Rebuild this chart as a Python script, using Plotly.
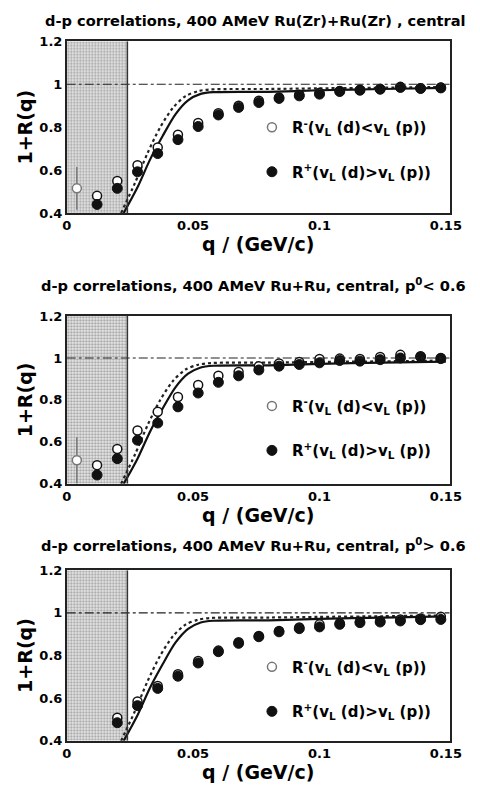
import plotly.graph_objects as go

# ---------------- data ----------------
q_bins = [0.004, 0.012, 0.020, 0.028, 0.036, 0.044, 0.052, 0.060, 0.068, 0.076,
          0.084, 0.092, 0.100, 0.108, 0.116, 0.124, 0.132, 0.140, 0.148]

titles = [
    "d-p correlations, 400 AMeV Ru(Zr)+Ru(Zr) , central",
    "d-p correlations, 400 AMeV Ru+Ru, central, p<sup>0</sup>&lt; 0.6",
    "d-p correlations, 400 AMeV Ru+Ru, central, p<sup>0</sup>&gt; 0.6",
]

# panel 1
r_minus_1 = [0.515, 0.480, 0.549, 0.623, 0.705, 0.765, 0.820, 0.865, 0.900, 0.923,
             0.938, 0.951, 0.960, 0.969, 0.974, 0.978, 0.988, 0.982, 0.985]
r_plus_1 = [None, 0.440, 0.515, 0.592, 0.677, 0.742, 0.803, 0.857, 0.892, 0.915,
            0.934, 0.946, 0.954, 0.966, 0.972, 0.977, 0.985, 0.980, 0.983]
# panel 2
r_minus_2 = [0.512, 0.489, 0.566, 0.654, 0.744, 0.814, 0.871, 0.915, 0.933, 0.961,
             0.974, 0.981, 0.995, 0.997, 0.995, 1.005, 1.015, 1.008, 1.000]
r_plus_2 = [None, 0.442, 0.520, 0.608, 0.690, 0.767, 0.833, 0.884, 0.915, 0.943,
            0.961, 0.969, 0.977, 0.988, 0.985, 0.992, 1.000, 1.005, 0.997]
# panel 3
r_minus_3 = [None, None, 0.508, 0.585, 0.657, 0.712, 0.774, 0.823, 0.862, 0.892,
             0.915, 0.931, 0.946, 0.951, 0.958, 0.962, 0.969, 0.974, 0.982]
r_plus_3 = [None, None, 0.485, 0.565, 0.646, 0.703, 0.765, 0.818, 0.857, 0.888,
            0.911, 0.926, 0.934, 0.946, 0.954, 0.957, 0.962, 0.968, 0.969]

# first-bin error (only visible error bar)
err_minus_1 = [0.10] + [0] * 18
err_minus_2 = [0.11] + [0] * 18
err_minus_3 = [0] * 19

# model curves
solid_q = [0.0225, 0.028, 0.033, 0.038, 0.043, 0.048, 0.053, 0.058, 0.080, 0.100, 0.125, 0.150]
solid_r = [0.40, 0.52, 0.65, 0.76, 0.86, 0.925, 0.955, 0.963, 0.965, 0.972, 0.978, 0.983]
dotted_q = [0.0215, 0.027, 0.032, 0.037, 0.042, 0.047, 0.052, 0.057, 0.080, 0.100, 0.125, 0.150]
dotted_r = [0.40, 0.54, 0.68, 0.80, 0.89, 0.945, 0.968, 0.976, 0.978, 0.981, 0.984, 0.988]

excl_q = [0.0, 0.024]          # excluded (shaded) q-range
x_range = [0.0, 0.1515]
y_range = [0.4, 1.2]
y_ticks = [0.4, 0.6, 0.8, 1.0, 1.2]
y_ticklabels = ["0.4", "0.6", "0.8", "1", "1.2"]
x_ticks = [0.0, 0.05, 0.1, 0.15]
x_ticklabels = ["0", "0.05", "0.1", "0.15"]

legend_minus = "R<sup>-</sup>(v<sub>L</sub> (d)&lt;v<sub>L</sub> (p))"
legend_plus = "R<sup>+</sup>(v<sub>L</sub> (d)&gt;v<sub>L</sub> (p))"

panels = [
    (r_minus_1, r_plus_1, err_minus_1),
    (r_minus_2, r_plus_2, err_minus_2),
    (r_minus_3, r_plus_3, err_minus_3),
]

# ---------------- layout geometry (pixels) ----------------
W, H = 480, 794
plot_px = [(35, 210), (315, 486), (574, 748)]   # top, bottom
title_px = [14, 283, 548]
legend_top_px = [106, 390, 656]
x_dom = [64 / W, 461 / W]

FONT = "DejaVu Sans, Liberation Sans, Arial, sans-serif"

fig = go.Figure()
layout_axes = {}
annotations = []
shapes = []

for i, (rm, rp, em) in enumerate(panels):
    n = i + 1
    xa = "x" if n == 1 else f"x{n}"
    ya = "y" if n == 1 else f"y{n}"
    lg = "legend" if n == 1 else f"legend{n}"

    # shaded excluded region
    fig.add_trace(go.Scatter(
        x=[excl_q[0], excl_q[1], excl_q[1], excl_q[0], excl_q[0]],
        y=[y_range[0], y_range[0], y_range[1], y_range[1], y_range[0]],
        mode="lines", line=dict(width=0), fill="toself",
        fillcolor="rgba(200,200,200,1)",
        fillpattern=dict(shape=".", fgcolor="#555555", bgcolor="#ececec",
                         size=3, solidity=0.45),
        xaxis=xa, yaxis=ya, showlegend=False, hoverinfo="skip"))

    # dotted model
    fig.add_trace(go.Scatter(
        x=dotted_q, y=dotted_r, mode="lines",
        line=dict(color="#222222", width=2.2, dash="dot", shape="spline", smoothing=0.8),
        xaxis=xa, yaxis=ya, showlegend=False, hoverinfo="skip"))
    # solid model
    fig.add_trace(go.Scatter(
        x=solid_q, y=solid_r, mode="lines",
        line=dict(color="#111111", width=2.2, shape="spline", smoothing=0.8),
        xaxis=xa, yaxis=ya, showlegend=False, hoverinfo="skip"))

    # open circles (R-)
    line_cols = ["#777777"] + ["#111111"] * 18
    fig.add_trace(go.Scatter(
        x=q_bins, y=rm, mode="markers",
        marker=dict(symbol="circle", size=9, color="white",
                    line=dict(color=line_cols, width=1.5)),
        error_y=dict(type="data", array=em, visible=True, color="#777777",
                     thickness=1.5, width=0),
        xaxis=xa, yaxis=ya, name=legend_minus, legend=lg,
        legendgroup=f"m{n}", showlegend=True))
    # filled circles (R+)
    fig.add_trace(go.Scatter(
        x=q_bins, y=rp, mode="markers",
        marker=dict(symbol="circle", size=10, color="#111111",
                    line=dict(color="#111111", width=1)),
        xaxis=xa, yaxis=ya, name=legend_plus, legend=lg,
        legendgroup=f"p{n}", showlegend=True))

    top, bot = plot_px[i]
    dom_y = [1 - bot / H, 1 - top / H]
    layout_axes[f"xaxis{'' if n == 1 else n}"] = dict(
        domain=x_dom, range=x_range, anchor=ya,
        tickvals=x_ticks, ticktext=x_ticklabels,
        showgrid=False, zeroline=False, showline=True, mirror=True,
        linecolor="#222222", linewidth=1.5, ticks="",
        tickfont=dict(family=FONT, size=13, color="black", weight="bold"),
        title=dict(text="q / (GeV/c)", standoff=0,
                   font=dict(family=FONT, size=19, color="black", weight="bold")),
    )
    layout_axes[f"yaxis{'' if n == 1 else n}"] = dict(
        domain=dom_y, range=y_range, anchor=xa,
        tickvals=y_ticks, ticktext=y_ticklabels,
        showgrid=False, zeroline=False, showline=True, mirror=True,
        linecolor="#222222", linewidth=1.5, ticks="",
        tickfont=dict(family=FONT, size=13, color="black", weight="bold"),
        title=dict(text="1+R(q)", standoff=2,
                   font=dict(family=FONT, size=19, color="black", weight="bold")),
    )

    # title
    annotations.append(dict(
        text=titles[i], xref="paper", yref="paper", x=1.0, y=1 - title_px[i] / H,
        xanchor="right", yanchor="middle", showarrow=False,
        font=dict(family=FONT, size=14.6, color="black", weight="bold")))

    # y = 1 reference line
    shapes.append(dict(type="line", xref=xa, yref=ya, x0=x_range[0], x1=x_range[1],
                       y0=1, y1=1, line=dict(color="#222222", width=1.2, dash="dashdot")))
    # edge of excluded region
    shapes.append(dict(type="line", xref=xa, yref=ya, x0=excl_q[1], x1=excl_q[1],
                       y0=y_range[0], y1=y_range[1], line=dict(color="#333333", width=1.5)))

    layout_axes[lg] = dict(
        x=(256) / W, y=1 - legend_top_px[i] / H, xanchor="left", yanchor="top",
        bgcolor="rgba(0,0,0,0)", borderwidth=0, tracegroupgap=22,
        traceorder="grouped", itemwidth=30,
        font=dict(family=FONT, size=15, color="black", weight="bold"))

fig.update_layout(
    width=W, height=H, margin=dict(l=0, r=0, t=0, b=0),
    paper_bgcolor="white", plot_bgcolor="white",
    annotations=annotations, shapes=shapes, **layout_axes)

fig.write_html("out.html")
